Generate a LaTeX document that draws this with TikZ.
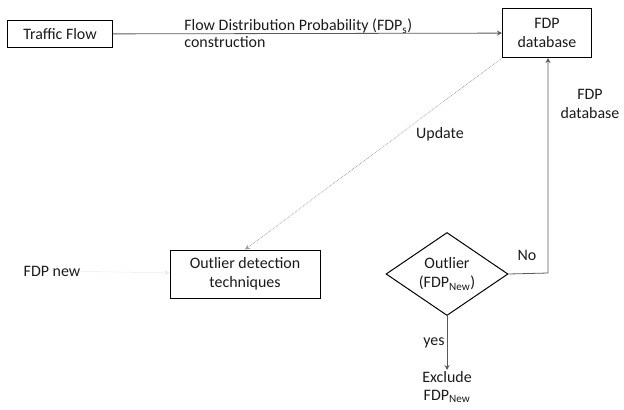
\documentclass[tikz,border=0pt]{standalone}
\usepackage{fontspec}
\setmainfont{Carlito}
\usetikzlibrary{arrows.meta,positioning,shapes.geometric}
\definecolor{cline}{HTML}{5A5A5A}
\definecolor{cfaint}{HTML}{9A9A9A}
\definecolor{ctext}{HTML}{1A1A1A}
\tikzset{
  fbox/.style={draw=black, line width=1pt, align=center, inner sep=3pt,
               font=\fontsize{16}{19}\selectfont, text=ctext},
  ndec/.style={fbox, diamond, aspect=1.47, inner sep=0pt},
  nlab/.style={align=center, inner sep=1pt, font=\fontsize{16}{19}\selectfont, text=ctext},
  flow/.style={-{Stealth[length=5pt,width=5pt]}, line width=0.8pt, draw=cline},
  flowf/.style={-{Stealth[length=5pt,width=5pt]}, line width=0.5pt, draw=black!8},
  flowd/.style={-{Stealth[length=5pt,width=5pt]}, line width=0.7pt, draw=cfaint, densely dotted},
}
\begin{document}
\begin{tikzpicture}[x=1bp, y=-1bp]
  \useasboundingbox (0,0) rectangle (624,409);
  \node[fbox, minimum width=105bp, minimum height=27bp] (tf) at (60,34) {Traffic Flow};
  \node[fbox, minimum width=89bp, minimum height=49bp] (db) at (547,33) {FDP\\database};
  \node[fbox, minimum width=150bp, minimum height=48bp] (od) at (245,274) {Outlier detection\\techniques};
  \node[nlab] (new) at (52,271) {FDP new};
  \node[ndec, minimum width=122bp, minimum height=83bp] (out) at (447,274) {Outlier\\(FDP\textsubscript{New})};
  \node[nlab, font=\fontsize{16}{18}\selectfont] (ex) at (447,387) {Exclude\\FDP\textsubscript{New}};
  \coordinate (turn) at (548,273);
  \draw[flow] (tf) -- (db)
    node[nlab, pos=0.18, anchor=south west, yshift=-1bp] {Flow Distribution Probability (FDP\textsubscript{s})}
    node[nlab, pos=0.18, anchor=north west, yshift=-1bp] {construction};
  \draw[flowd] (db.south west) -- (od.north);
  \node[nlab] (upd) at (440,134) {Update};
  \draw[flowf] (new) -- (od);
  \draw[flow] (out.east) -- (turn) -- (turn |- db.south);
  \node[nlab] (dbl) at (590,104) {FDP\\database};
  \node[nlab] (no) at (527,255) {No};
  \draw[flow] (out.south) -- (ex.north)
    node[nlab, midway, left=1bp] {yes};
\end{tikzpicture}
\end{document}
